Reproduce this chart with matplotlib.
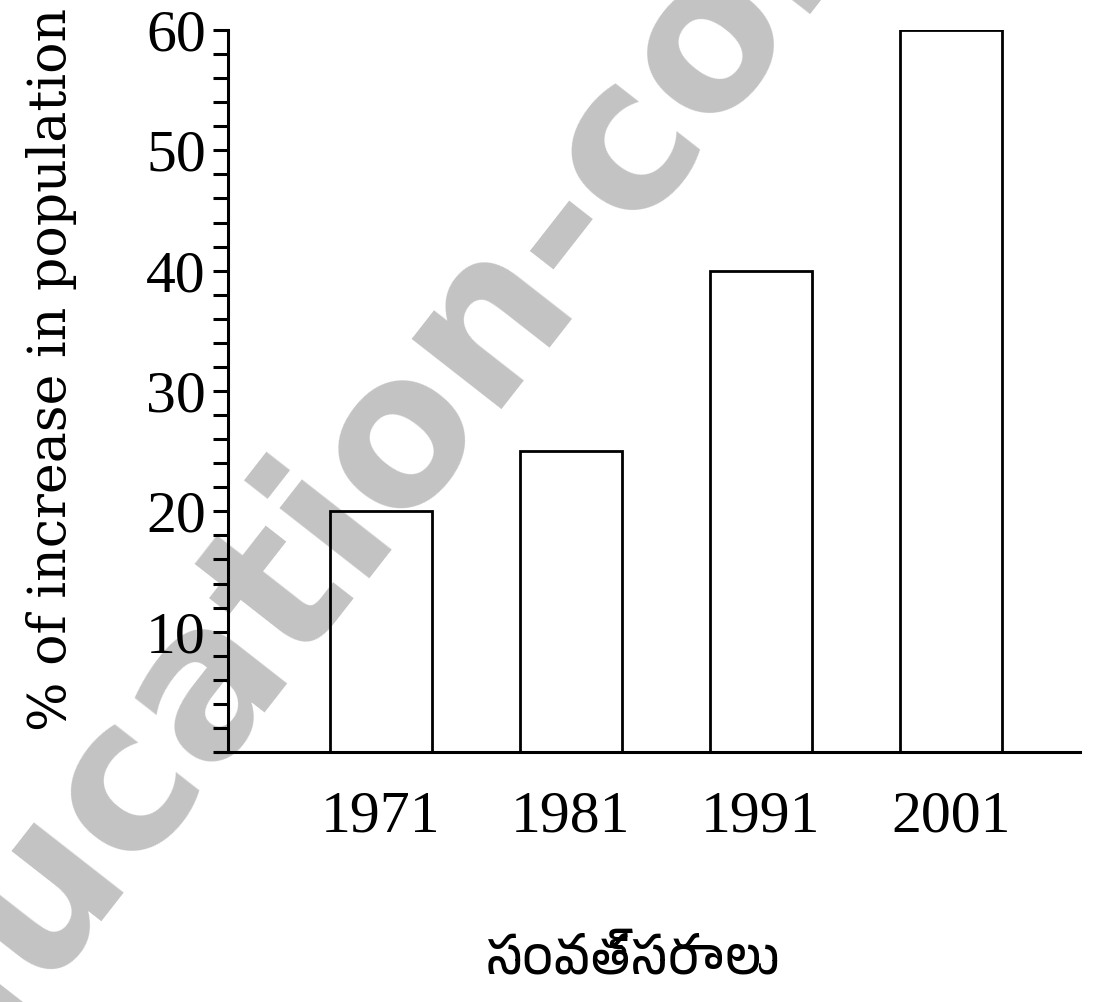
import numpy as np
import matplotlib
matplotlib.use('Agg')
import matplotlib.pyplot as plt
from matplotlib import font_manager
from matplotlib.ticker import MultipleLocator

years = ['1971', '1981', '1991', '2001']
increase = [20, 25, 40, 60]
y_ticks = [10, 20, 30, 40, 50, 60]
y_label = '% of increase in population'
x_label = 'సంవత్సరాలు'

# look for a font that can draw telugu
telugu = [f.name for f in font_manager.fontManager.ttflist if 'Telugu' in f.name]
telugu_family = telugu[:1] + ['Noto Sans', 'DejaVu Sans']

serif = 'Liberation Serif'

fig = plt.figure(figsize=(11.19, 10.02), dpi=100)
W, H = 1119, 1002
ax = fig.add_axes([218 / W, 1 - 752 / H, (1080 - 218) / W, (752 - 30) / H])

x = np.arange(len(years))
# white fill under the watermark, black outline above it
ax.bar(x, increase, width=0.54, facecolor='white', edgecolor='none', zorder=0.5)
ax.bar(x, increase, width=0.54, facecolor='none', edgecolor='black', linewidth=2, zorder=2)

ax.set_xlim(-0.858, 3.68)
ax.set_ylim(0, 60)
ax.spines['top'].set_visible(False)
ax.spines['right'].set_visible(False)
ax.spines['left'].set_bounds(0, 60)
ax.spines['left'].set_position(('data', -0.805))
ax.spines['left'].set_linewidth(2.2)
ax.spines['bottom'].set_linewidth(2.2)

ax.set_xticks(x)
ax.set_xticklabels(years, fontfamily=serif, fontsize=43)
ax.tick_params(axis='x', length=0, pad=28)

ax.set_yticks(y_ticks)
ax.set_yticklabels([str(v) for v in y_ticks], fontfamily=serif, fontsize=43)
ax.yaxis.set_minor_locator(MultipleLocator(2))
ax.tick_params(axis='y', which='both', direction='out', length=11, width=2.2, pad=5)

fig.text(52 / W, 1 - 369 / H, y_label, rotation=90, ha='center', va='center',
         fontfamily='DejaVu Serif', fontsize=37.5)
fig.text(633 / W, 1 - 973 / H, x_label, ha='center', va='baseline',
         family=telugu_family, fontsize=36)

# watermark
ax.text(350 / W, 1 - 497 / H, 'education-com', transform=fig.transFigure, clip_on=False,
        rotation=52, ha='center', va='center', fontsize=150, fontweight='bold',
        color='#c3c3c3', fontfamily='DejaVu Sans', zorder=1)

fig.savefig('out.png', dpi=100)
